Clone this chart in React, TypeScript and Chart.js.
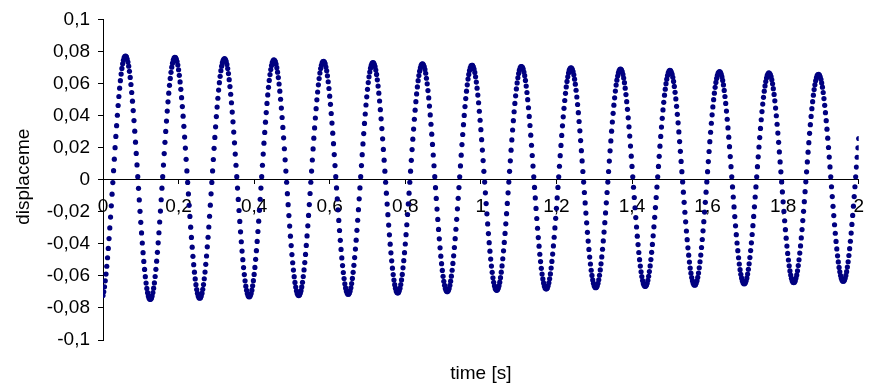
import { useEffect, useRef } from "react";
import { Chart, registerables } from "chart.js";

Chart.register(...registerables);

// sampling grid of the recorded signal
const SAMPLE_START_S = 0;
const SAMPLE_INTERVAL_S = 0.002;

// displacement readings, in units of 1e-4 (one value per sample)
const DISPLACEMENT_E4 = [
  -723, -699, -668, -631, -589, -540, -487, -429, -367, -301,
  -233, -163, -90, -18, 56, 128, 200, 270, 337, 402,
  463, 519, 571, 618, 659, 694, 723, 745, 761, 769,
  771, 766, 753, 734, 708, 676, 638, 594, 544, 490,
  431, 369, 303, 234, 164, 92, 19, -54, -126, -197,
  -266, -332, -395, -455, -510, -560, -605, -645, -678, -705,
  -726, -740, -746, -746, -739, -725, -704, -677, -644, -604,
  -559, -508, -453, -394, -331, -264, -196, -125, -53, 19,
  91, 163, 233, 301, 366, 428, 486, 540, 589, 632,
  670, 702, 727, 746, 758, 763, 761, 752, 737, 715,
  686, 651, 610, 564, 512, 456, 396, 333, 266, 197,
  127, 55, -17, -89, -160, -229, -296, -360, -421, -478,
  -530, -577, -619, -655, -685, -709, -726, -736, -739, -736,
  -725, -708, -684, -654, -618, -576, -528, -476, -419, -359,
  -295, -228, -159, -88, -17, 55, 126, 196, 264, 330,
  394, 453, 508, 559, 605, 645, 680, 708, 730, 745,
  753, 755, 750, 738, 719, 693, 662, 624, 581, 533,
  480, 422, 361, 297, 230, 160, 90, 19, -52, -123,
  -192, -260, -325, -387, -445, -499, -548, -592, -631, -664,
  -690, -710, -724, -730, -730, -723, -710, -689, -662, -630,
  -591, -547, -497, -443, -385, -323, -259, -191, -122, -52,
  19, 90, 160, 228, 295, 359, 419, 476, 529, 576,
  619, 656, 687, 712, 730, 742, 747, 745, 736, 721,
  699, 671, 637, 597, 552, 502, 447, 388, 326, 261,
  193, 124, 54, -16, -87, -156, -224, -289, -352, -411,
  -467, -518, -564, -605, -641, -670, -693, -710, -720,
  -723, -719, -709, -692, -669, -640, -604, -563, -517, -466,
  -410, -351, -288, -223, -155, -86, -16, 54, 123, 192,
  259, 323, 385, 443, 498, 547, 592, 631, 665, 693,
  714, 729, 737, 739, 733, 722, 703, 679, 648, 611,
  569, 521, 470, 413, 353, 290, 225, 157, 88, 19,
  -51, -120, -188, -254, -317, -378, -435, -488, -536, -579,
  -617, -649, -675, -694, -707, -714, -714, -707, -694, -674,
  -648, -616, -578, -534, -486, -433, -377, -316, -253, -187,
  -119, -51, 19, 88, 156, 223, 288, 351, 410, 466,
  517, 564, 606, 642, 672, 696, 714, 726, 730, 729,
  720, 705, 684, 657, 623, 584, 540, 491, 437, 380,
  319, 255, 189, 122, 53, -16, -84, -152, -218, -283,
  -344, -402, -456, -506, -552, -592, -626, -655, -677, -694, -703,
  -707, -703, -693, -677, -654, -625, -591, -550, -505, -455,
  -401, -343, -281, -217, -151, -84, -16, 53, 121, 188,
  253, 316, 377, 434, 487, 535, 579, 618, 650, 677,
  698, 713, 721, 722, 717, 706, 688, 664, 633, 598,
  556, 510, 459, 404, 346, 284, 220, 154, 87, 19,
  -50, -117, -183, -248, -310, -369, -425, -477, -524, -566,
  -603, -634, -659, -679, -691, -698, -698, -691, -678, -659,
  -633, -602, -565, -522, -475, -423, -368, -309, -247, -182,
  -116, -49, 18, 86, 153, 219, 282, 343, 401, 456,
  506, 552, 592, 628, 657, 681, 698, 710, 714, 713,
  704, 690, 669, 642, 609, 571, 528, 480, 427, 371,
  312, 250, 185, 119, 52, -15, -82, -149, -213, -276,
  -336, -393, -446, -495, -539, -578, -612, -640, -662, -678, -687,
  -690, -687, -677, -661, -639, -611, -577, -538, -493, -444,
  -391, -335, -275, -212, -148, -82, -15, 52, 118, 184,
  248, 310, 368, 424, 476, 523, 566, 604, 636, 662,
  683, 697, 705, 706, 701, 690, 672, 649, 619, 584,
  544, 499, 449, 395, 338, 278, 215, 151, 85, 18,
  -48, -114, -179, -242, -303, -361, -415, -465, -511, -553,
  -589, -619, -644, -663, -675, -681, -681, -675, -662, -643,
  -618, -588, -551, -510, -464, -413, -359, -301, -241, -178,
  -114, -48, 18, 84, 150, 214, 276, 336, 392, 445,
  494, 539, 579, 613, 642, 665, 683, 693, 698, 696,
  688, 674, 654, 627, 596, 558, 516, 469, 418, 363,
  305, 244, 181, 117, 51, -15, -80, -145, -208, -269,
  -328, -383, -435, -483, -526, -565, -597, -625, -646, -662, -671,
  -674, -671, -661, -646, -624, -596, -563, -525, -482, -434,
  -382, -327, -268, -207, -144, -80, -15, 51, 116, 180,
  242, 303, 360, 414, 465, 511, 553, 590, 621, 647,
  667, 681, 688, 690, 685, 674, 657, 634, 605, 571,
  531, 487, 439, 386, 330, 272, 210, 147, 83, 18,
  -47, -111, -175, -236, -295, -352, -405, -454, -499, -539,
  -575, -604, -629, -647, -659, -665, -665, -659, -646, -628,
  -603, -573, -538, -498, -453, -404, -350, -294, -235, -174,
  -111, -46, 18, 83, 146, 209, 270, 328, 383, 435,
  483, 527, 565, 599, 627, 650, 667, 677, 682, 680,
  672, 658, 639, 613, 582, 545, 504, 458, 408, 355,
  298, 238, 177, 114, 50, -14, -78, -141, -203, -263,
  -320, -374, -425, -471, -514, -551, -583, -610, -631, -646, -655,
  -658, -655, -645, -630, -609, -582, -550, -512, -470, -423,
  -373, -319, -262, -202, -141, -78, -14, 50, 113, 176,
  237, 296, 352, 405, 454, 499, 540, 576, 607, 632,
  651, 665, 672, 674, 669, 658, 641, 619, 591, 557,
  519, 476, 428, 377, 323, 265, 206, 144, 81, 18,
  -45, -108, -170, -230, -288, -343, -395, -443, -487, -526,
  -561, -590, -613, -631, -643, -649, -649, -643, -631, -613,
  -589, -559, -525, -486, -442, -394, -342, -287, -229, -169,
  -108, -45, 18, 81, 143, 204, 263, 320, 374, 425,
  472, 514, 552, 585, 612, 634, 651, 661, 666, 664,
  656, 643, 623, 598, 568, 532, 492, 447, 399, 346,
  291, 233, 173, 111, 49, -14, -76, -138, -198, -256,
  -312, -365, -414, -460, -501, -537, -569, -595, -615, -630, -639,
  -642, -639, -630, -614, -594, -568, -536, -500, -458, -413,
  -363, -311, -255, -197, -137, -75, -13, 49, 111, 172,
  231, 289, 343, 395, 443, 487, 527, 562, 592, 617,
  635, 649, 656, 657, 653, 642, 626, 604, 577, 544,
  506, 464, 418, 368, 315, 259, 201, 141, 80, 18,
  -44, -105, -166, -224, -281, -334, -385, -432, -475, -513,
  -547, -575, -598, -615, -627, -633, -633, -627, -615, -597,
  -574, -545, -512, -473, -430, -384, -333, -279, -223, -165,
  -105, -44, 18, 79, 140, 199, 257,
];

const X_MIN = 0;
const X_MAX = 2;
const X_STEP = 0.2;
const Y_MIN = -0.1;
const Y_MAX = 0.1;
const Y_STEP = 0.02;
const X_TITLE = "time [s]";
const Y_TITLE = "displaceme";

const FONT = '"Liberation Sans", Arial, sans-serif';
const DOT_COLOR = "#000080";

const fmt = (v: number) => String(Number(Number(v).toFixed(2))).replace(".", ",");

const axisTitles = {
  id: "axisTitles",
  afterDraw(chart: any) {
    const { ctx, chartArea } = chart;
    ctx.save();
    ctx.fillStyle = "#000";
    ctx.font = `19px ${FONT}`;
    ctx.textAlign = "center";
    ctx.textBaseline = "alphabetic";
    ctx.fillText(X_TITLE, (chartArea.left + chartArea.right) / 2, 379);
    ctx.translate(29, (chartArea.top + chartArea.bottom) / 2 - 3);
    ctx.rotate(-Math.PI / 2);
    ctx.fillText(Y_TITLE, 0, 0);
    ctx.restore();
  },
};

export default function App() {
  const ref = useRef<HTMLCanvasElement>(null);
  useEffect(() => {
    document.body.style.margin = "0";
    const canvas = ref.current;
    if (!canvas) return;
    const points = DISPLACEMENT_E4.map((v, i) => ({
      x: SAMPLE_START_S + i * SAMPLE_INTERVAL_S,
      y: v / 10000,
    }));
    const chart = new Chart(canvas, {
      type: "scatter",
      data: {
        datasets: [
          {
            data: points,
            backgroundColor: DOT_COLOR,
            borderColor: DOT_COLOR,
            borderWidth: 0,
            pointRadius: 2.6,
            pointHoverRadius: 2.6,
            showLine: false,
          },
        ],
      },
      options: {
        responsive: false,
        animation: false,
        devicePixelRatio: 1,
        layout: { padding: { left: 0, top: 15, right: 9, bottom: 47 } },
        plugins: {
          legend: { display: false },
          tooltip: { enabled: false },
          title: { display: false },
        },
        events: [],
        scales: {
          x: {
            type: "linear",
            position: { y: 0 } as any,
            min: X_MIN,
            max: X_MAX,
            border: { display: true, color: "#000", width: 1 },
            grid: {
              display: true,
              drawOnChartArea: false,
              drawTicks: true,
              tickLength: 4,
              color: "#000",
            },
            ticks: {
              stepSize: X_STEP,
              autoSkip: false,
              maxRotation: 0,
              color: "#000",
              padding: 12,
              font: { size: 19, family: FONT },
              callback: (v: any) => fmt(v),
            },
          },
          y: {
            type: "linear",
            position: "left",
            min: Y_MIN,
            max: Y_MAX,
            afterFit: (s: any) => {
              s.width = 103;
            },
            border: { display: true, color: "#000", width: 1 },
            grid: {
              display: true,
              drawOnChartArea: false,
              drawTicks: true,
              tickLength: 5,
              color: "#000",
            },
            ticks: {
              stepSize: Y_STEP,
              autoSkip: false,
              color: "#000",
              padding: 8,
              font: { size: 19, family: FONT },
              callback: (v: any) => fmt(v),
            },
          },
        },
      },
      plugins: [axisTitles],
    });
    return () => chart.destroy();
  }, []);
  return (
    <div style={{ width: 876, height: 387 }}>
      <canvas ref={ref} width={876} height={387} style={{ display: "block" }} />
    </div>
  );
}
